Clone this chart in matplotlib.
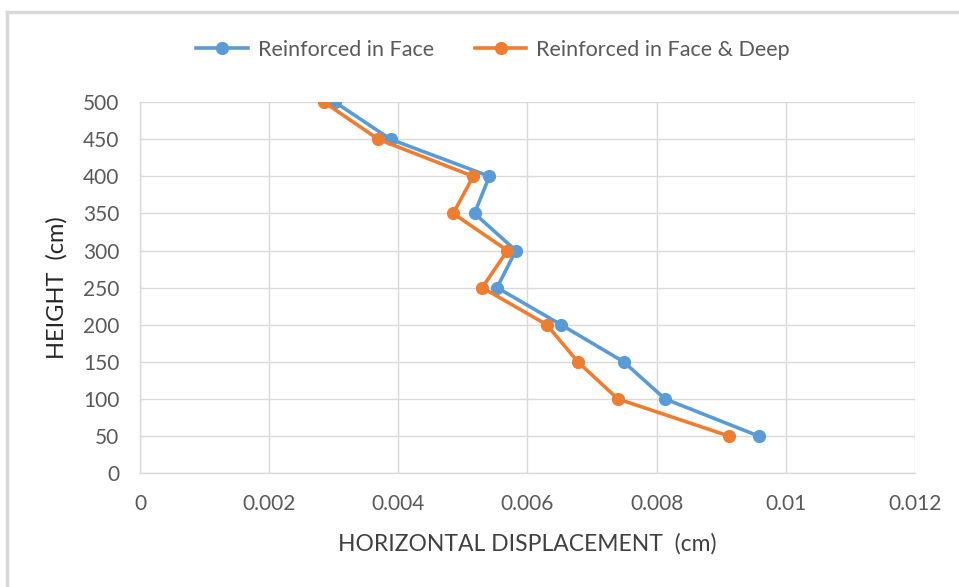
import matplotlib.pyplot as plt
from matplotlib.lines import Line2D

plt.rcParams['font.family'] = ['Lato', 'DejaVu Sans']

height = [500, 450, 400, 350, 300, 250, 200, 150, 100, 50]
disp_face = [0.00302, 0.00388, 0.00541, 0.00518, 0.00582, 0.00553, 0.00652, 0.00749, 0.00813, 0.00958]
disp_face_deep = [0.00285, 0.00369, 0.00516, 0.00485, 0.00569, 0.0053, 0.0063, 0.00678, 0.0074, 0.00912]

blue = '#5B9BD5'
orange = '#ED7D31'
grey = '#595959'

fig = plt.figure(figsize=(9.59, 5.87), dpi=100)
ax = fig.add_axes([0.146, 0.194, 0.808, 0.632])

ax.plot(disp_face, height, color=blue, lw=2.6, marker='o', ms=8.5, label='Reinforced in Face')
ax.plot(disp_face_deep, height, color=orange, lw=2.6, marker='o', ms=8.5, label='Reinforced in Face & Deep')

ax.set_xlim(0, 0.012)
ax.set_ylim(0, 500)
ax.set_xticks([0, 0.002, 0.004, 0.006, 0.008, 0.01, 0.012])
ax.set_xticklabels(['0', '0.002', '0.004', '0.006', '0.008', '0.01', '0.012'])
ax.set_yticks(range(0, 501, 50))

ax.grid(True, color='#D9D9D9', lw=1)
ax.set_axisbelow(True)
for side in ['top', 'right']:
    ax.spines[side].set_visible(False)
for side in ['left', 'bottom']:
    ax.spines[side].set_color('#D9D9D9')
    ax.spines[side].set_linewidth(1)
ax.tick_params(axis='y', length=0, labelsize=15, colors=grey, pad=15)
ax.tick_params(axis='x', length=0, labelsize=15, colors=grey, pad=15)

ax.set_xlabel('HORIZONTAL DISPLACEMENT  (cm)', fontsize=16.5, color='#404040', labelpad=14)
ax.set_ylabel('HEIGHT  (cm)', fontsize=17, color='#262626', labelpad=11)

fig.legend(*ax.get_legend_handles_labels(), loc='center', bbox_to_anchor=(493 / 959, 1 - 50 / 587),
           ncol=2, frameon=False, fontsize=15.5, labelcolor=grey, handlelength=2.4,
           columnspacing=1.9, handletextpad=0.45)

# thin chart-area frame on the top and left edges
fig.add_artist(Line2D([0.0073, 1.0], [0.9795, 0.9795], color='#D9D9D9', lw=2.5, transform=fig.transFigure))
fig.add_artist(Line2D([0.0073, 0.0073], [0.0, 0.9795], color='#D9D9D9', lw=2.5, transform=fig.transFigure))

fig.savefig('out.png', dpi=100)
